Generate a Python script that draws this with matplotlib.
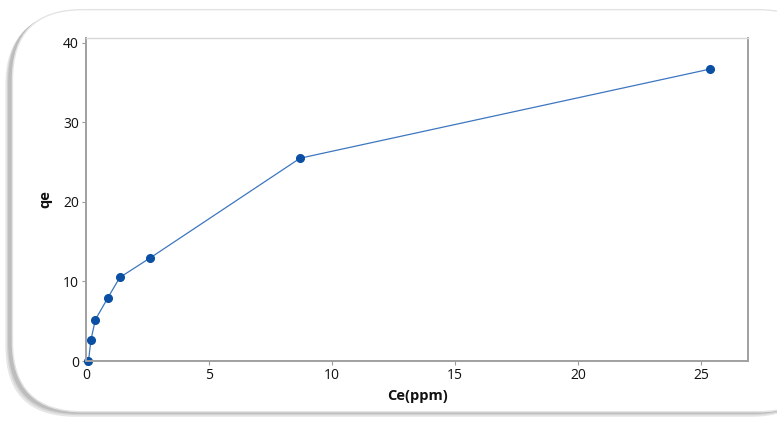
import matplotlib
matplotlib.use("Agg")
import matplotlib.pyplot as plt
from matplotlib.patches import FancyBboxPatch

# Isotherm data
ce = [0.1, 0.2, 0.38, 0.88, 1.37, 2.6, 8.7, 25.35]
qe = [0.0, 2.65, 5.2, 7.9, 10.5, 12.95, 25.5, 36.7]

xticks = [0, 5, 10, 15, 20, 25]
yticks = [0, 10, 20, 30, 40]

plt.rcParams['font.family'] = ['Open Sans', 'DejaVu Sans']

fig = plt.figure(figsize=(7.77, 4.21), dpi=100)
fig.patch.set_facecolor('white')

# rounded card with soft shadow behind the chart
for i, (off, c) in enumerate([(0.010, '#e6e6e6'), (0.006, '#d2d2d2'), (0.003, '#bdbdbd')]):
    sh = FancyBboxPatch((0.012 - off * 0.5, 0.02 - off), 1.05, 0.955,
                        boxstyle="round,pad=0,rounding_size=0.09",
                        transform=fig.transFigure, facecolor=c, edgecolor='none',
                        mutation_aspect=777 / 421, zorder=0)
    fig.patches.append(sh)
card = FancyBboxPatch((0.016, 0.022), 1.05, 0.955,
                      boxstyle="round,pad=0,rounding_size=0.09",
                      transform=fig.transFigure, facecolor='white', edgecolor='#e4e4e4',
                      linewidth=1.0, mutation_aspect=777 / 421, zorder=1)
fig.patches.append(card)

ax = fig.add_axes([0.1107, 0.1425, 0.852, 0.767])
ax.set_zorder(2)
ax.plot(ce, qe, color='#3d76c0', linewidth=0.9, marker='o', markersize=5.5,
        markerfacecolor='#0a4fa3', markeredgecolor='#0a4fa3', clip_on=False)

ax.set_xlim(0, 26.9)
ax.set_ylim(0, 40.6)
ax.set_xticks(xticks)
ax.set_yticks(yticks)
ax.tick_params(axis='both', direction='out', length=3, width=0.8, color='#9a9a9a',
               labelsize=10, labelcolor='#111111', pad=2)

for side in ['left', 'bottom', 'right']:
    ax.spines[side].set_color('#a0a0a0')
    ax.spines[side].set_linewidth(1.4)
ax.spines['top'].set_color('#d8d8d8')
ax.spines['top'].set_linewidth(1.0)

ax.set_xlabel('Ce(ppm)', fontsize=10.5, fontweight='bold', color='#111111', labelpad=4)
ax.set_ylabel('qe', fontsize=10.5, fontweight='bold', color='#111111', labelpad=8)

fig.savefig('out.png', dpi=100)
